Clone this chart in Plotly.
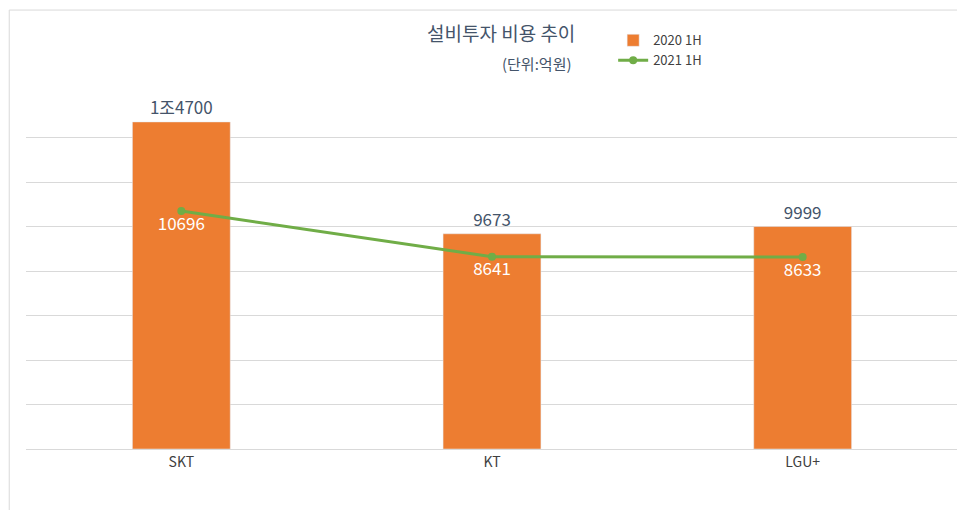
import plotly.graph_objects as go

carriers = ['SKT', 'KT', 'LGU+']
capex_2020 = [14700, 9673, 9999]
capex_2020_labels = ['1조4700', '9673', '9999']
capex_2021 = [10696, 8641, 8633]

font = 'Noto Sans CJK KR'

fig = go.Figure()
fig.add_trace(go.Bar(x=carriers, y=capex_2020, name='2020 1H', marker_color='#ED7D31',
                     width=0.315, text=capex_2020_labels, textposition='outside',
                     textfont=dict(size=17, color='#44546A'), cliponaxis=False))
fig.add_trace(go.Scatter(x=carriers, y=capex_2021, name='2021 1H', mode='lines+markers+text',
                         line=dict(color='#70AD47', width=3), marker=dict(size=8),
                         text=[str(v) for v in capex_2021], textposition='bottom center',
                         textfont=dict(size=17, color='white')))

fig.update_layout(
    width=965, height=510,
    margin=dict(l=18, r=15, t=85, b=69),
    paper_bgcolor='white', plot_bgcolor='white',
    font=dict(family=font, color='#404040'),
    showlegend=True,
    legend=dict(x=0.63, y=1.19, xref='paper', yref='paper', yanchor='top', xanchor='left',
                font=dict(size=13), bgcolor='rgba(0,0,0,0)'),
    xaxis=dict(showgrid=False, showline=True, linecolor='#D9D9D9',
               tickfont=dict(size=14, color='#404040'), ticks=''),
    yaxis=dict(range=[0, 16000], dtick=2000, showticklabels=False,
               gridcolor='#D9D9D9', zeroline=False),
    shapes=[dict(type='rect', xref='paper', yref='paper', x0=-0.018, x1=1.0155,
                 y0=-0.188, y1=1.233, line=dict(color='#D9D9D9', width=1))],
    annotations=[
        dict(text='설비투자 비용 추이', x=0.51, y=1.169, xref='paper', yref='paper',
             showarrow=False, xanchor='center', yanchor='middle',
             font=dict(size=19, color='#44546A')),
        dict(text='(단위:억원)', x=0.588, y=1.084, xref='paper', yref='paper',
             showarrow=False, xanchor='right', yanchor='middle',
             font=dict(size=15, color='#44546A')),
    ],
)

fig.write_html('out.html')
